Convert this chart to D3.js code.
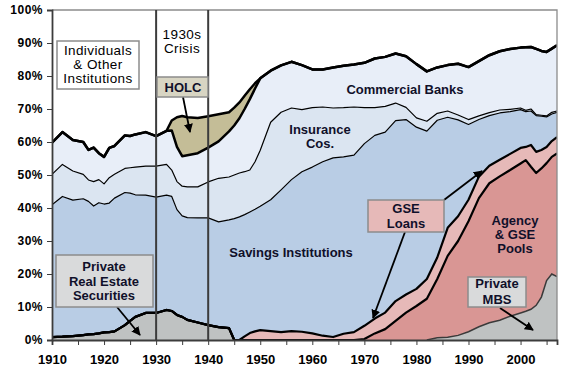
<!DOCTYPE html>
<html>
<head>
<meta charset="utf-8">
<script src="https://cdn.jsdelivr.net/npm/d3@7"></script>
<style>
  body { margin: 0; background: #fff; }
  svg { display: block; font-family: "Liberation Sans", Arial, sans-serif; }
  .lbl { fill: #10102a; font-size: 13px; font-weight: bold; text-anchor: middle; }
  .lbl.reg { font-weight: normal; font-size: 13.5px; letter-spacing: 0.4px; fill: #000; }
</style>
</head>
<body>
<div id="chart"></div>
<script>
// shares of mortgage holdings (percent)
const years = [1910, 1912, 1914, 1916, 1917, 1918, 1919, 1920, 1921, 1922, 1924, 1925, 1926, 1928,
  1930, 1932, 1933, 1934, 1935, 1936, 1938, 1940, 1942, 1944, 1945, 1946, 1947, 1948, 1949, 1950,
  1952, 1954, 1956, 1958, 1960, 1962, 1964, 1966, 1968, 1970, 1972, 1974, 1976, 1978, 1980, 1982,
  1984, 1986, 1988, 1990, 1992, 1994, 1996, 1998, 2000, 2001, 2002, 2003, 2004, 2005, 2006, 2007];

const privateSec = [0.9, 1.0, 1.2, 1.5, 1.7, 1.8, 2.0, 2.3, 2.4, 2.6, 4.5, 5.8, 7.0, 8.2,
  8.2, 9.1, 8.8, 7.6, 7.0, 6.1, 5.3, 4.5, 3.9, 3.6, 0, 0, 0, 0, 0, 0,
  0, 0, 0, 0, 0, 0, 0, 0, 0, 0, 0, 0, 0, 0, 0, 0,
  0.7, 0.8, 1.4, 2.5, 4.0, 5.2, 6.0, 7.2, 8.2, 8.7, 9.3, 10.5, 13.0, 18.0, 20.0, 19.2];

const pools = [0, 0, 0, 0, 0, 0, 0, 0, 0, 0, 0, 0, 0, 0,
  0, 0, 0, 0, 0, 0, 0, 0, 0, 0, 0, 0, 0, 0, 0, 0,
  0, 0, 0, 0, 0, 0, 0, 0, 0, 0.3, 2.0, 3.3, 5.8, 8.3, 10.3, 12.5,
  17.8, 24.7, 28.6, 33.5, 39.0, 42.3, 43.6, 44.3, 45.3, 45.8, 43.2, 40.1, 39.0, 35.6, 35.5, 37.3];

const gseLoans = [0, 0, 0, 0, 0, 0, 0, 0, 0, 0, 0, 0, 0, 0,
  0, 0, 0, 0, 0, 0, 0, 0, 0, 0, 0, 0, 1.1, 2.1, 2.6, 3.0,
  2.7, 2.4, 2.7, 2.5, 2.0, 1.3, 0.9, 1.9, 2.4, 4.0, 4.5, 5.0, 6.0, 5.5, 5.2, 6.0,
  6.5, 8.5, 7.5, 6.5, 6.5, 5.3, 5.0, 4.9, 4.7, 4.0, 6.6, 6.4, 5.6, 4.9, 4.8, 5.0];

const savings = [40.1, 42.5, 41.2, 41.3, 40.3, 38.8, 39.6, 38.9, 39.1, 40.4, 40.2, 38.7, 37.0, 35.7,
  35.1, 34.8, 34.7, 31.9, 30.6, 31.0, 31.7, 32.5, 31.9, 32.8, 36.8, 37.3, 36.9, 36.7, 37.0, 37.5,
  39.8, 43.1, 45.9, 48.5, 50.4, 52.7, 54.3, 53.6, 53.6, 55.2, 55.5, 54.7, 54.7, 53.0, 49.0, 44.8,
  41.6, 33.5, 29.2, 22.8, 17.3, 15.2, 14.2, 12.8, 11.6, 10.7, 10.3, 11.0, 10.2, 9.1, 8.2, 7.5];

const insurance = [9.2, 9.7, 8.8, 7.4, 6.5, 7.4, 7.0, 6.1, 7.7, 7.2, 7.3, 7.7, 8.4, 8.8,
  9.4, 9.3, 8.0, 8.5, 9.0, 9.3, 9.4, 10.9, 13.2, 13.0, 13.2, 13.3, 13.0, 12.7, 14.4, 17.0,
  23.5, 23.5, 21.7, 18.8, 18.0, 16.6, 15.1, 14.9, 14.6, 10.9, 8.4, 7.8, 5.3, 3.7, 2.8, 3.0,
  2.1, 1.9, 1.5, 1.5, 1.1, 0.9, 0.9, 0.7, 0.5, 0.4, 0.6, 0.3, 0.3, 0.3, 0.5, 0.4];

const banks = [9.6, 9.8, 9.4, 9.8, 9.1, 10.3, 8.0, 8.2, 9.0, 8.6, 10.0, 9.6, 9.9, 10.3,
  9.1, 10.2, 12.0, 10.5, 9.1, 9.6, 10.2, 10.4, 11.2, 13.8, 15.0, 16.6, 19.0, 21.5, 22.2, 21.8,
  15.6, 14.2, 14.0, 13.5, 11.6, 11.4, 12.3, 12.7, 12.9, 13.6, 14.9, 15.0, 15.0, 15.5, 16.3, 15.1,
  13.9, 13.9, 15.5, 15.9, 16.6, 17.4, 17.8, 18.3, 18.3, 19.1, 18.8, 19.9, 19.5, 19.4, 19.3, 19.9];

const holc = [0, 0, 0, 0, 0, 0, 0, 0, 0, 0, 0, 0, 0, 0,
  0, 0, 3.0, 9.0, 12.2, 11.5, 10.7, 9.5, 8.2, 5.8, 5.4, 4.8, 4.0, 3.0, 1.6, 0,
  0, 0, 0, 0, 0, 0, 0, 0, 0, 0, 0, 0, 0, 0, 0, 0,
  0, 0, 0, 0, 0, 0, 0, 0, 0, 0, 0, 0, 0, 0, 0, 0];

const yTicks = [0, 10, 20, 30, 40, 50, 60, 70, 80, 90, 100];
const xTicks = d3.range(1910, 2006, 5);

const keys = ['privateSec', 'pools', 'gseLoans', 'savings', 'insurance', 'banks', 'holc'];
const values = { privateSec, pools, gseLoans, savings, insurance, banks, holc };
const fills = {
  privateSec: '#bfc2c2', pools: '#d99694', gseLoans: '#e6b9b8', savings: '#b9cde5',
  insurance: '#dbe5f1', banks: '#e8eef8', holc: '#c4bd97'
};
const lineW = {
  privateSec: 2.2, pools: 2.2, gseLoans: 2.2, savings: 1.2, insurance: 1.2, banks: 2.5, holc: 2.5
};

const rows = years.map((yr, i) => {
  const r = { year: yr };
  keys.forEach(k => { r[k] = values[k][i]; });
  return r;
});

const width = 569;
const height = 373;
const m = { top: 10, right: 12, bottom: 33, left: 52 };

const x = d3.scaleLinear().domain([1910, 2007]).range([m.left, width - m.right]);
const y = d3.scaleLinear().domain([0, 100]).range([height - m.bottom, m.top]);

const svg = d3.select('#chart').append('svg')
  .attr('width', width)
  .attr('height', height);

svg.append('defs').append('clipPath').attr('id', 'plot')
  .append('rect')
  .attr('x', m.left).attr('y', m.top)
  .attr('width', width - m.left - m.right).attr('height', height - m.top - m.bottom);

const marker = svg.select('defs').append('marker')
  .attr('id', 'arr')
  .attr('viewBox', '0 0 10 10')
  .attr('refX', 9).attr('refY', 5)
  .attr('markerWidth', 5).attr('markerHeight', 5)
  .attr('orient', 'auto');
marker.append('path').attr('d', 'M0,0L10,5L0,10z').attr('fill', '#000');

const series = d3.stack().keys(keys)(rows);

const area = d3.area()
  .x(d => x(d.data.year))
  .y0(d => y(d[0]))
  .y1(d => y(d[1]));

const g = svg.append('g').attr('clip-path', 'url(#plot)');

g.selectAll('path.area')
  .data(series)
  .enter()
  .append('path')
  .attr('class', 'area')
  .attr('fill', d => fills[d.key])
  .attr('d', area);

const line = d3.line()
  .x(d => x(d.data.year))
  .y(d => y(d[1]));

// thin lines first, thick ones on top
const order = ['insurance', 'savings', 'pools', 'gseLoans', 'banks', 'holc'];
order.forEach(k => {
  const s = series.find(v => v.key === k);
  g.append('path')
    .attr('fill', 'none')
    .attr('stroke', '#000')
    .attr('stroke-width', lineW[k])
    .attr('stroke-linejoin', 'round')
    .attr('d', line(s));
});

// private securities: heavy line up to the war, lighter for private MBS
const ps = series.find(v => v.key === 'privateSec');
g.append('path')
  .attr('fill', 'none').attr('stroke', '#000').attr('stroke-width', 2.2)
  .attr('d', line(ps.filter(d => d.data.year <= 1946)));
g.append('path')
  .attr('fill', 'none').attr('stroke', '#3a3a3a').attr('stroke-width', 1.5)
  .attr('d', line(ps.filter(d => d.data.year >= 1982)));

// frame
svg.append('path')
  .attr('fill', 'none').attr('stroke', '#8c8c8c').attr('stroke-width', 1.3)
  .attr('d', `M${m.left},${m.top}H${width - m.right}V${height - m.bottom}`);

// 1930s crisis box
[1930, 1940].forEach(yr => {
  svg.append('line')
    .attr('x1', x(yr)).attr('x2', x(yr))
    .attr('y1', m.top).attr('y2', height - m.bottom)
    .attr('stroke', '#3c3c3c').attr('stroke-width', 2);
});

// axes
const yAxis = svg.append('g')
  .attr('transform', `translate(${m.left},0)`)
  .call(d3.axisLeft(y).tickValues(yTicks).tickFormat(d => d + '%').tickSize(5).tickPadding(4));
yAxis.select('.domain').attr('stroke', '#3c3c3c').attr('stroke-width', 1.8);
yAxis.selectAll('.tick line').attr('stroke', '#3c3c3c');
yAxis.selectAll('text')
  .attr('fill', '#000').style('font-size', '12px').style('font-weight', 'bold')
  .style('letter-spacing', '0.5px');

const xAxis = svg.append('g')
  .attr('transform', `translate(0,${height - m.bottom})`)
  .call(d3.axisBottom(x).tickValues(xTicks).tickFormat(d => (d % 10 === 0 ? d : '')).tickSize(5).tickPadding(10));
xAxis.select('.domain').attr('stroke', '#3c3c3c').attr('stroke-width', 1.8);
xAxis.selectAll('.tick line').attr('stroke', '#3c3c3c');
xAxis.selectAll('text')
  .attr('fill', '#000').style('font-size', '13px').style('font-weight', 'bold');

// labels
function box(x0, y0, w, h, fill) {
  svg.append('rect')
    .attr('x', x0).attr('y', y0).attr('width', w).attr('height', h)
    .attr('fill', fill).attr('stroke', '#8c8c8c').attr('stroke-width', 1.5);
}
function text(lines, cx, base, step, cls) {
  lines.forEach((t, i) => {
    svg.append('text')
      .attr('class', cls || 'lbl')
      .attr('x', cx).attr('y', base + i * step)
      .text(t);
  });
}
function arrow(x1, y1, x2, y2) {
  svg.append('line')
    .attr('x1', x1).attr('y1', y1).attr('x2', x2).attr('y2', y2)
    .attr('stroke', '#000').attr('stroke-width', 1.8)
    .attr('marker-end', 'url(#arr)');
}

box(57, 41, 82, 48, '#fff');
text(['Individuals', '& Other', 'Institutions'], 98, 55, 14, 'lbl reg');

text(['1930s', 'Crisis'], 182, 39, 14, 'lbl reg');

arrow(183, 97, 190, 132);
box(157, 77, 51, 20, '#d8d5c3');
text(['HOLC'], 183, 92, 0);

text(['Commercial Banks'], 405, 94, 0);
text(['Insurance', 'Cos.'], 320, 134, 14);
text(['Savings Institutions'], 291, 257, 0);

arrow(117, 307, 140, 335);
box(56, 255, 97, 52, '#d9dadb');
text(['Private', 'Real Estate', 'Securities'], 104, 271, 14.5);

arrow(444, 200, 482, 171);
arrow(405, 232, 373, 318);
box(368, 200, 76, 32, '#e6b9b8');
text(['GSE', 'Loans'], 406, 213, 15);

text(['Agency', '& GSE', 'Pools'], 515, 225, 14);

arrow(500, 308, 533, 330);
box(468, 277, 58, 30, '#d9dadb');
text(['Private', 'MBS'], 497, 288, 16);
</script>
</body>
</html>
